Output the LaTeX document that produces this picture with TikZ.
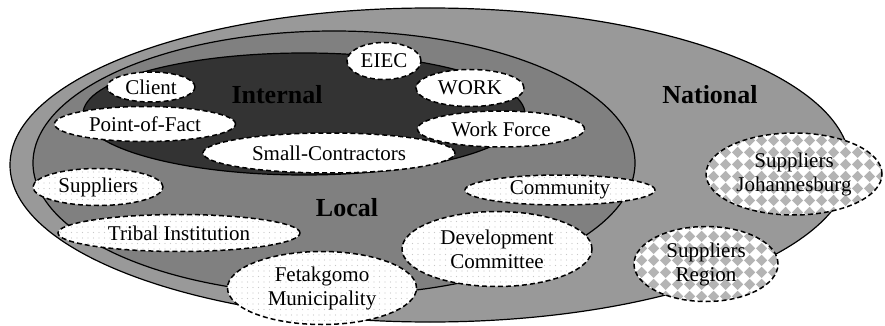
\documentclass[tikz,border=0pt]{standalone}
\usepackage{fontspec}
\setmainfont{Liberation Serif}
\usetikzlibrary{shapes.geometric, patterns, patterns.meta}
\definecolor{natgray}{RGB}{153, 153, 153}
\definecolor{locgray}{RGB}{128, 128, 128}
\definecolor{intgray}{RGB}{51, 51, 51}
\definecolor{dotgray}{RGB}{200, 200, 200}
\definecolor{checkgray}{RGB}{180, 180, 180}

% diagonal checker tiles for the national nodes
\pgfdeclarepatternformonly{checks}{\pgfqpoint{0pt}{0pt}}{\pgfqpoint{12pt}{12pt}}{\pgfqpoint{12pt}{12pt}}{%
  \pgfpathmoveto{\pgfqpoint{6pt}{0pt}}%
  \pgfpathlineto{\pgfqpoint{12pt}{6pt}}%
  \pgfpathlineto{\pgfqpoint{6pt}{12pt}}%
  \pgfpathlineto{\pgfqpoint{0pt}{6pt}}%
  \pgfpathclose
  \pgfusepath{fill}}

\begin{document}
\begin{tikzpicture}[
  x=1pt, y=-1pt,
  ring/.style={draw, line width=1.2pt},
  party/.style={ellipse, draw, dash pattern=on 5pt off 3pt, line width=1.5pt, inner sep=0pt, align=center, font=\fontsize{21}{24}\selectfont},
  intnode/.style={party, fill=white},
  locnode/.style={party, preaction={fill=white}, pattern={Dots[distance=5.5pt, radius=0.6pt]}, pattern color=dotgray},
  natnode/.style={party, preaction={fill=white}, pattern=checks, pattern color=checkgray},
  zone/.style={font=\fontsize{26}{30}\selectfont\bfseries}
]
  \useasboundingbox (0,0) rectangle (885,326);

  % Rings
  \draw[ring, fill=natgray] (430,165) ellipse [x radius=420pt, y radius=157pt];
  \draw[ring, fill=locgray] (334,163) ellipse [x radius=301pt, y radius=132pt];
  \draw[ring, fill=intgray] (304,114) ellipse [x radius=221pt, y radius=61pt];

  % Ring labels
  \node[zone] (intlabel) at (277,95) {Internal};
  \node[zone] (loclabel) at (347,208) {Local};
  \node[zone] (natlabel) at (710,95) {National};

  % Internal
  \node[intnode, minimum width=88pt, minimum height=30pt] (client) at (151,87) {Client};
  \node[intnode, minimum width=74pt, minimum height=37pt] (eiec) at (384,61) {EIEC};
  \node[intnode, minimum width=108pt, minimum height=37pt] (work) at (470,88) {WORK};
  \node[intnode, minimum width=181pt, minimum height=35pt] (pof) at (145,124) {Point-of-Fact};
  \node[intnode, minimum width=167pt, minimum height=36pt] (force) at (501,129) {Work Force};
  \node[intnode, minimum width=252pt, minimum height=40pt] (small) at (329,153) {Small-Contractors};

  % Local
  \node[locnode, minimum width=130pt, minimum height=37pt] (supp) at (98,187) {Suppliers};
  \node[locnode, minimum width=242pt, minimum height=37pt] (tribal) at (179,233) {Tribal Institution};
  \node[locnode, minimum width=190pt, minimum height=30pt] (comm) at (560,190) {Community};
  \node[locnode, minimum width=190pt, minimum height=75pt] (dev) at (497,249) {Development\\Committee};
  \node[locnode, minimum width=189pt, minimum height=73pt] (feta) at (322,288) {Fetakgomo\\Municipality};

  % National
  \node[natnode, minimum width=176pt, minimum height=82pt] (suppjhb) at (794,174) {Suppliers\\Johannesburg};
  \node[natnode, minimum width=144pt, minimum height=75pt] (suppreg) at (706,264) {Suppliers\\Region};
\end{tikzpicture}
\end{document}
